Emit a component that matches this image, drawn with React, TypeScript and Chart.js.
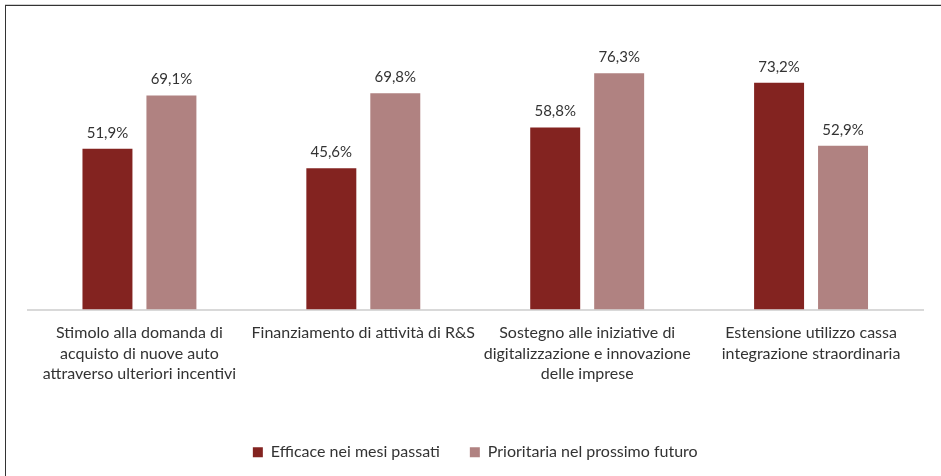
import React, { useEffect, useRef } from "react";
import { Chart, registerables } from "chart.js";

Chart.register(...registerables);

const categories: string[][] = [
  ["Stimolo alla domanda di", "acquisto di nuove auto", "attraverso ulteriori incentivi"],
  ["Finanziamento di attività di R&S"],
  ["Sostegno alle iniziative di", "digitalizzazione e innovazione", "delle imprese"],
  ["Estensione utilizzo cassa", "integrazione straordinaria"],
];
const seriesNames = ["Efficace nei mesi passati", "Prioritaria nel prossimo futuro"];
const efficace = [51.9, 45.6, 58.8, 73.2];
const prioritaria = [69.1, 69.8, 76.3, 52.9];

const FONT = "Lato, 'Source Sans Pro', sans-serif";
const TEXT = "#333333";

const valueLabels = {
  id: "valueLabels",
  afterDatasetsDraw(chart: any) {
    const ctx = chart.ctx;
    ctx.save();
    ctx.font = `15px ${FONT}`;
    ctx.fillStyle = TEXT;
    ctx.textAlign = "center";
    ctx.textBaseline = "middle";
    chart.data.datasets.forEach((ds: any, i: number) => {
      const meta = chart.getDatasetMeta(i);
      meta.data.forEach((el: any, j: number) => {
        const v = ds.data[j] as number;
        ctx.fillText(v.toFixed(1).replace(".", ",") + "%", el.x, el.y - 16);
      });
    });
    ctx.restore();
  },
};

export default function App() {
  const ref = useRef<HTMLCanvasElement | null>(null);
  useEffect(() => {
    if (!ref.current) return;
    const chart = new Chart(ref.current, {
      type: "bar",
      data: {
        labels: categories as any,
        datasets: [
          {
            label: seriesNames[0],
            data: efficace,
            backgroundColor: "#832320",
            categoryPercentage: 0.5714,
            barPercentage: 0.78125,
          },
          {
            label: seriesNames[1],
            data: prioritaria,
            backgroundColor: "#b08281",
            categoryPercentage: 0.5714,
            barPercentage: 0.78125,
          },
        ],
      },
      options: {
        animation: false,
        responsive: false,
        events: [],
        layout: { padding: { left: 27.5, right: 18, top: 30.8, bottom: 5.8 } },
        scales: {
          x: {
            grid: { display: false, drawTicks: false },
            border: { display: true, color: "#d9d9d9", width: 2 },
            ticks: {
              autoSkip: false,
              maxRotation: 0,
              minRotation: 0,
              padding: 13.5,
              color: TEXT,
              font: { family: FONT, size: 16, lineHeight: 1.27 },
            },
            afterFit: (scale: any) => {
              scale.height = 104.7;
            },
          },
          y: {
            display: false,
            min: 0,
            max: 90,
          },
        },
        plugins: {
          tooltip: { enabled: false },
          legend: {
            position: "bottom",
            maxHeight: 60,
            labels: {
              boxWidth: 10,
              boxHeight: 10,
              padding: 30,
              color: TEXT,
              font: { family: FONT, size: 16 },
            },
          },
        },
      },
      plugins: [valueLabels],
    });
    return () => chart.destroy();
  }, []);

  return (
    <div style={{ position: "fixed", left: 0, top: 0, width: 941, height: 476, background: "#fff", overflow: "hidden" }}>
      <div style={{ position: "absolute", left: 5, top: 4, right: 0, height: 0, borderTop: "1px solid #d0d0d0" }} />
      <div style={{ position: "absolute", left: 5, top: 5, right: -2, bottom: -2, borderTop: "1px solid #333", borderLeft: "1px solid #333" }} />
      <canvas ref={ref} width={941} height={476} style={{ position: "absolute", left: 0, top: 0, display: "block" }} />
    </div>
  );
}
